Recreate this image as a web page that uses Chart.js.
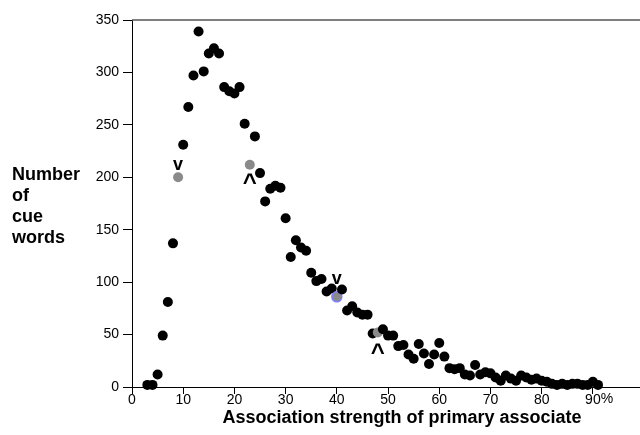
<!DOCTYPE html>
<html>
<head>
<meta charset="utf-8">
<script src="https://cdn.jsdelivr.net/npm/chart.js@4.4.1/dist/chart.umd.min.js"></script>
<style>
  html, body { margin: 0; padding: 0; background: #fff; }
  #wrap { width: 640px; height: 435px; }
</style>
</head>
<body>
<div id="wrap"><canvas id="chart"></canvas></div>
<script>
// association strength (%) and number of cue words
const strengths = [3, 4, 5, 6, 7, 8, 9, 10, 11, 12, 13, 14, 15, 16, 17, 18, 19, 20, 21, 22,
  23, 24, 25, 26, 27, 28, 29, 30, 31, 32, 33, 34, 35, 36, 37, 38, 39, 40, 41, 42,
  43, 44, 45, 46, 47, 48, 49, 50, 51, 52, 53, 54, 55, 56, 57, 58, 59, 60, 61, 62,
  63, 64, 65, 66, 67, 68, 69, 70, 71, 72, 73, 74, 75, 76, 77, 78, 79, 80, 81, 82,
  83, 84, 85, 86, 87, 88, 89, 90, 91];
const cueCounts = [2, 2, 12, 49, 81, 137, 200, 231, 267, 297, 339, 301, 318, 323, 318, 286, 282, 280, 286, 251,
  212, 239, 204, 177, 189, 192, 190, 161, 124, 140, 133, 130, 109, 101, 103, 91, 94, 86, 93, 73,
  77, 71, 69, 69, 51, 52, 55, 49, 49, 39, 40, 31, 27, 41, 32, 22, 31, 42, 29, 18,
  17, 18, 12, 11, 21, 12, 14, 13, 9, 6, 11, 8, 6, 11, 9, 7, 8, 6, 5, 3,
  2, 3, 2, 3, 3, 2, 2, 5, 2];

const greyAt = [9, 23, 48];
const blueAt = [40];
const markAt = [9, 23, 40, 48];
const markSym = ['v', '^', 'v', '^'];

const xTicks = [0, 10, 20, 30, 40, 50, 60, 70, 80, 90];
const yTicks = [0, 50, 100, 150, 200, 250, 300, 350];
const yTitle = ['Number', 'of', 'cue', 'words'];
const xTitle = 'Association strength of primary associate';

const FONT = "'Liberation Sans', Arial, Helvetica, sans-serif";

// pixel offsets of the v / ^ marks from their points
const markDy = [-12, 14, -18, 16];

const extras = {
  id: 'extras',
  afterDraw(chart) {
    const ctx = chart.ctx;
    const a = chart.chartArea;
    const xs = chart.scales.x, ys = chart.scales.y;
    ctx.save();
    // top frame line
    ctx.strokeStyle = '#555';
    ctx.lineWidth = 1.5;
    ctx.beginPath();
    ctx.moveTo(a.left, a.top);
    ctx.lineTo(chart.width, a.top);
    ctx.stroke();

    // % after the 90 label
    ctx.fillStyle = '#000';
    ctx.font = '14px ' + FONT;
    ctx.textBaseline = 'top';
    ctx.textAlign = 'left';
    const px = xs.getPixelForValue(90) + ctx.measureText('90').width / 2;
    ctx.fillText('%', px, xs.top + 5);

    // axis titles
    ctx.font = 'bold 18px ' + FONT;
    ctx.textBaseline = 'alphabetic';
    ctx.textAlign = 'left';
    yTitle.forEach((t, i) => ctx.fillText(t, 12, 180 + i * 21));
    ctx.textAlign = 'center';
    ctx.fillText(xTitle, 402, 423);

    // v / ^ marks
    markAt.forEach((x, i) => {
      const y = cueCounts[strengths.indexOf(x)];
      const s = markSym[i];
      ctx.font = (s === '^' ? 'bold 24px ' : 'bold 18px ') + FONT;
      const m = ctx.measureText(s);
      const cx = xs.getPixelForValue(x);
      const cy = ys.getPixelForValue(y) + markDy[i];
      ctx.textAlign = 'center';
      ctx.fillText(s, cx, cy + (m.actualBoundingBoxAscent - m.actualBoundingBoxDescent) / 2);
    });
    ctx.restore();
  }
};

const pointFill = (ctx) => {
  const x = strengths[ctx.dataIndex];
  if (greyAt.includes(x) || blueAt.includes(x)) return '#8a8a8a';
  return '#000';
};

new Chart(document.getElementById('chart'), {
  type: 'scatter',
  data: {
    datasets: [{
      data: strengths.map((x, i) => ({ x: x, y: cueCounts[i] })),
      pointRadius: 5,
      pointHoverRadius: 5,
      backgroundColor: pointFill,
      borderColor: (ctx) => blueAt.includes(strengths[ctx.dataIndex]) ? '#7f7fff' : pointFill(ctx),
      borderWidth: (ctx) => blueAt.includes(strengths[ctx.dataIndex]) ? 1.5 : 0,
      clip: false
    }]
  },
  options: {
    responsive: true,
    maintainAspectRatio: false,
    animation: false,
    events: [],
    layout: { autoPadding: false, padding: { top: 20, right: 0, bottom: 0, left: 0 } },
    plugins: { legend: { display: false }, tooltip: { enabled: false } },
    scales: {
      x: {
        type: 'linear',
        min: 0,
        max: 99.2,
        afterBuildTicks: (s) => { s.ticks = xTicks.map(v => ({ value: v })); },
        afterFit: (s) => { s.height = 48; s.paddingRight = 0; s.paddingLeft = 0; },
        grid: { drawOnChartArea: false, tickLength: 7, color: '#000', lineWidth: 1 },
        border: { color: '#000', width: 1 },
        ticks: { color: '#000', font: { family: FONT, size: 14 }, padding: -2, maxRotation: 0, autoSkip: false }
      },
      y: {
        min: 0,
        max: 350,
        afterBuildTicks: (s) => { s.ticks = yTicks.map(v => ({ value: v })); },
        afterFit: (s) => { s.width = 132; },
        grid: { drawOnChartArea: false, tickLength: 9, color: '#000', lineWidth: 1 },
        border: { color: '#000', width: 1 },
        ticks: { color: '#000', font: { family: FONT, size: 14 }, padding: 4, autoSkip: false }
      }
    }
  },
  plugins: [extras]
});
</script>
</body>
</html>
